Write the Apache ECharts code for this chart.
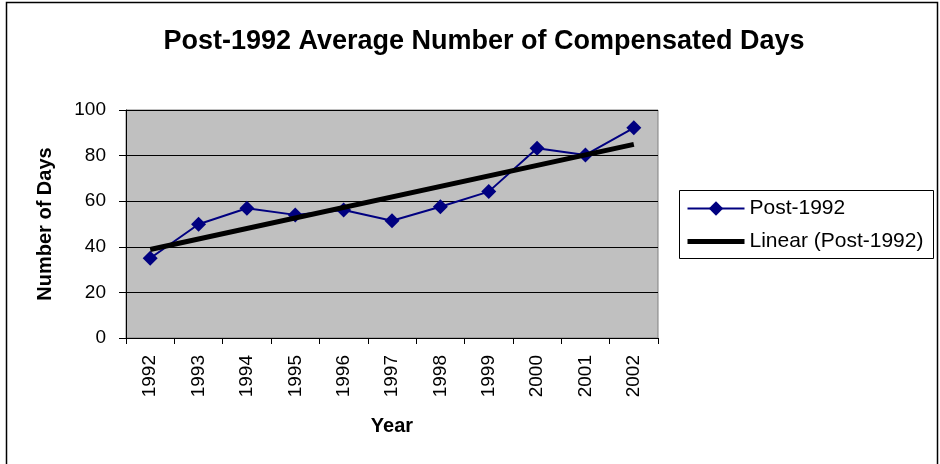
<!DOCTYPE html>
<html>
<head>
<meta charset="utf-8">
<script src="https://cdn.jsdelivr.net/npm/echarts@6/dist/echarts.min.js"></script>
<style>
  html, body { margin: 0; padding: 0; background: #fff; }
  #chart { width: 940px; height: 464px; }
</style>
</head>
<body>
<div id="chart"></div>
<script>
// Years on the category axis
const years = ['1992', '1993', '1994', '1995', '1996', '1997', '1998', '1999', '2000', '2001', '2002'];
// Average number of compensated days per year
const compensatedDays = [35.0, 49.9, 56.9, 54.0, 56.1, 51.4, 57.6, 64.2, 83.2, 80.3, 92.2];
// Linear trend endpoints (first and last year)
const trendEnds = [38.8, 84.9];
// Value axis ticks
const yTicks = [0, 20, 40, 60, 80, 100];

const FONT = '"Liberation Sans", Arial, sans-serif';

const chart = echarts.init(document.getElementById('chart'), null, { renderer: 'canvas' });

chart.setOption({
  backgroundColor: '#ffffff',
  animation: false,
  title: {
    text: 'Post-1992 Average Number of Compensated Days',
    left: 479,
    top: 23,
    textAlign: 'center',
    textStyle: { fontFamily: FONT, fontWeight: 'bold', fontSize: 27, color: '#000' }
  },
  legend: {
    orient: 'vertical',
    left: 679,
    top: 190,
    padding: [8, 6, 7, 6],
    itemGap: 12,
    itemWidth: 57,
    itemHeight: 18,
    textStyle: { fontFamily: FONT, fontSize: 21, color: '#000' },
    data: [
      { name: 'Post-1992' },
      {
        name: 'Linear (Post-1992)',
        itemStyle: { opacity: 0 },
        lineStyle: { color: '#000', width: 5 }
      }
    ]
  },
  grid: {
    left: 126,
    right: 282,
    top: 110,
    bottom: 126,
    show: true,
    backgroundColor: '#C0C0C0',
    borderColor: '#808080',
    borderWidth: 1,
    containLabel: false
  },
  xAxis: {
    type: 'category',
    data: years,
    boundaryGap: true,
    name: 'Year',
    nameLocation: 'middle',
    nameGap: 78,
    nameTextStyle: { fontFamily: FONT, fontWeight: 'bold', fontSize: 20, color: '#000' },
    axisLine: { lineStyle: { color: '#000', width: 1 } },
    axisTick: { show: true, length: 6, lineStyle: { color: '#000' } },
    axisLabel: {
      rotate: 90,
      margin: 17,
      fontFamily: FONT,
      fontSize: 19,
      color: '#000'
    },
    splitLine: { show: false }
  },
  yAxis: {
    type: 'value',
    min: yTicks[0],
    max: yTicks[yTicks.length - 1],
    interval: yTicks[1] - yTicks[0],
    name: 'Number of Days',
    nameLocation: 'middle',
    nameGap: 71,
    nameRotate: 90,
    nameTextStyle: { fontFamily: FONT, fontWeight: 'bold', fontSize: 20, color: '#000' },
    axisLine: { show: true, lineStyle: { color: '#000', width: 1 } },
    axisTick: { show: true, length: 7, lineStyle: { color: '#000' } },
    axisLabel: { margin: 20, fontFamily: FONT, fontSize: 19, color: '#000' },
    splitLine: { show: true, lineStyle: { color: '#000', width: 1 } }
  },
  series: [
    {
      name: 'Post-1992',
      type: 'line',
      data: compensatedDays,
      symbol: 'diamond',
      symbolSize: 15,
      lineStyle: { color: '#000080', width: 2 },
      itemStyle: { color: '#000080', borderWidth: 0 },
      z: 2
    },
    {
      name: 'Linear (Post-1992)',
      type: 'line',
      data: [[0, trendEnds[0]], [years.length - 1, trendEnds[1]]],
      symbol: 'none',
      lineStyle: { color: '#000', width: 5 },
      itemStyle: { color: '#000' },
      z: 3
    }
  ],
  graphic: [
    {
      // legend frame
      type: 'rect',
      shape: { x: 679.5, y: 190.5, width: 254, height: 68 },
      style: { fill: null, stroke: '#000', lineWidth: 1 },
      silent: true,
      z: 100
    },
    {
      // outer chart frame
      type: 'rect',
      shape: { x: 6.5, y: 2.5, width: 931, height: 470 },
      style: { fill: null, stroke: '#000', lineWidth: 1.5 },
      silent: true,
      z: 100
    }
  ]
});
</script>
</body>
</html>
